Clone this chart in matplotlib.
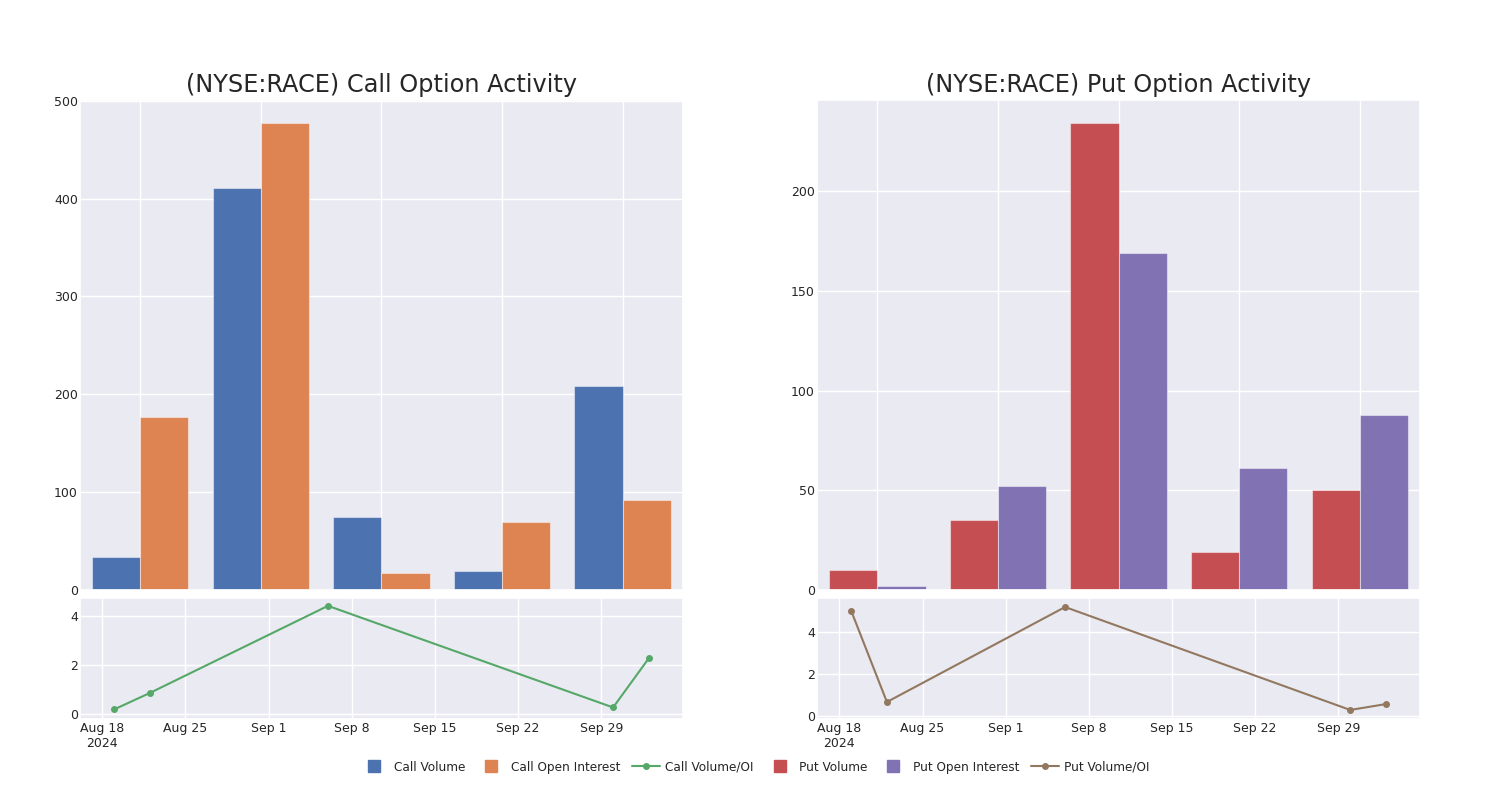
import matplotlib
matplotlib.use("Agg")
import matplotlib.pyplot as plt
import matplotlib.dates as mdates
import seaborn as sns
from matplotlib.lines import Line2D
from datetime import datetime
import numpy as np

# data
dates = ['2024-08-19', '2024-08-22', '2024-09-06', '2024-09-30', '2024-10-03']
call_volume = [34, 411, 75, 19, 209]
call_oi = [177, 477, 17, 70, 92]
call_ratio = [0.19, 0.86, 4.41, 0.27, 2.27]
put_volume = [10, 35, 234, 19, 50]
put_oi = [2, 52, 169, 61, 88]
put_ratio = [5.0, 0.67, 5.19, 0.29, 0.57]

sns.set_theme(style="darkgrid")
plt.rcParams['font.family'] = ['DejaVu Sans']
pal = sns.color_palette("deep")
c_blue, c_orange, c_green, c_red, c_purple, c_brown = pal[0], pal[1], pal[2], pal[3], pal[4], pal[5]

fig = plt.figure(figsize=(15, 8), dpi=100)

x_dates = [datetime.strptime(d, '%Y-%m-%d') for d in dates]


def date_fmt(x, pos=None):
    d = mdates.num2date(x)
    if pos == 0:
        return f"{d:%b} {d.day}\n{d:%Y}"
    return f"{d:%b} {d.day}"


def make_panel(left, title, vol, oi, ratio, col_v, col_oi, col_line, yticks_bar, line_ylim):
    ax_bar = fig.add_axes([left, 0.2625, 0.402, 0.6125])
    ax_line = fig.add_axes([left, 0.10125, 0.402, 0.15125])

    idx = np.arange(len(vol))
    w = 0.4
    ax_bar.bar(idx - w / 2, vol, w, color=col_v, edgecolor=(1, 1, 1, 0.45), linewidth=0.8)
    ax_bar.bar(idx + w / 2, oi, w, color=col_oi, edgecolor=(1, 1, 1, 0.45), linewidth=0.8)
    ax_bar.set_xlim(-0.5, len(vol) - 0.5)
    ax_bar.set_xticks(idx)
    ax_bar.set_xticklabels([])
    ax_bar.set_yticks(yticks_bar)
    ax_bar.tick_params(axis='both', length=0)
    ax_bar.tick_params(axis='y', labelsize=9, pad=1.5)
    ax_bar.set_title(title, fontsize=17.3, pad=6, color='#262626')

    ax_line.plot(x_dates, ratio, color=col_line, marker='o', markersize=4, linewidth=1.5)
    ax_line.margins(x=0.064)
    ax_line.set_ylim(*line_ylim)
    ax_line.xaxis.set_major_locator(mdates.WeekdayLocator(byweekday=mdates.SU))
    ax_line.xaxis.set_major_formatter(plt.FuncFormatter(date_fmt))
    ax_line.set_yticks([0, 2, 4])
    ax_line.tick_params(length=0, labelsize=9)
    ax_line.tick_params(axis='y', pad=1.5)
    ax_line.tick_params(axis='x', pad=2.5)
    for lbl in ax_line.get_xticklabels():
        lbl.set_horizontalalignment('center')
    return ax_bar, ax_line


make_panel(0.0533, '(NYSE:RACE) Call Option Activity', call_volume, call_oi, call_ratio,
           c_blue, c_orange, c_green, [0, 100, 200, 300, 400, 500], (-0.2, 4.73))
make_panel(0.5447, '(NYSE:RACE) Put Option Activity', put_volume, put_oi, put_ratio,
           c_red, c_purple, c_brown, [0, 50, 100, 150, 200], (-0.14, 5.62))

handles = [
    Line2D([], [], marker='s', linestyle='', color=c_blue, markersize=9),
    Line2D([], [], marker='s', linestyle='', color=c_orange, markersize=9),
    Line2D([], [], marker='o', color=c_green, markersize=4, linewidth=1.5),
    Line2D([], [], marker='s', linestyle='', color=c_red, markersize=9),
    Line2D([], [], marker='s', linestyle='', color=c_purple, markersize=9),
    Line2D([], [], marker='o', color=c_brown, markersize=4, linewidth=1.5),
]
labels = ['Call Volume', 'Call Open Interest', 'Call Volume/OI',
          'Put Volume', 'Put Open Interest', 'Put Volume/OI']
fig.legend(handles, labels, loc='center', bbox_to_anchor=(0.5035, 0.041), ncol=6,
           frameon=False, fontsize=8.7, handlelength=2.3, handletextpad=0.45,
           columnspacing=1.0)

fig.savefig('out.png', dpi=100)
